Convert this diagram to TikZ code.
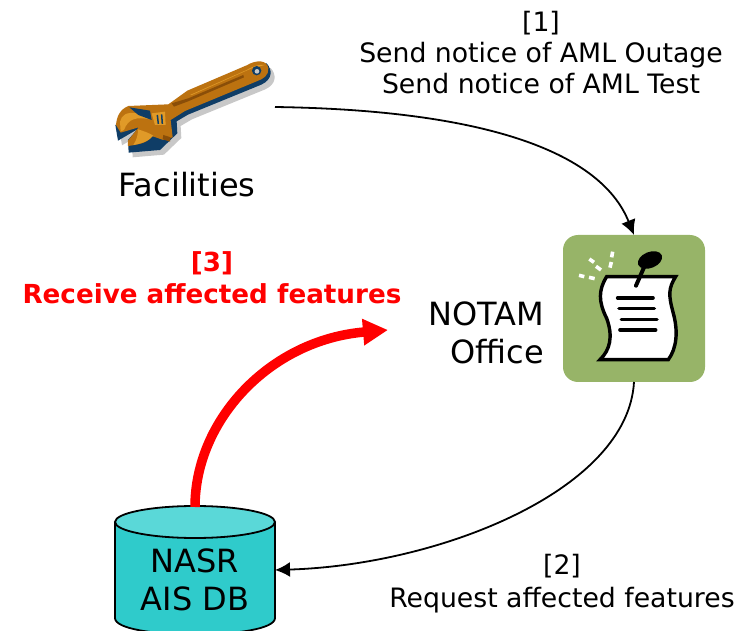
\documentclass[tikz,border=0pt]{standalone}
\usepackage{fontspec}
\setmainfont{DejaVu Sans}
\usetikzlibrary{arrows.meta}
\definecolor{notamgreen}{HTML}{97B468}
\definecolor{cylbody}{HTML}{2FCBCB}
\definecolor{cyltop}{HTML}{5AD8D8}
\definecolor{wrorange}{HTML}{BC7210}
\definecolor{wrdark}{HTML}{8A4E08}
\definecolor{wrlight}{HTML}{E09A28}
\definecolor{wrnavy}{HTML}{0F3D66}
\definecolor{wrgrey}{HTML}{C8C8C8}
\tikzset{
  lbl/.style={font=\fontsize{32}{38}\selectfont, align=center, inner sep=0pt, text=black},
  lblsmall/.style={font=\fontsize{26.7}{31}\selectfont, align=center, inner sep=0pt, text=black},
  lblmid/.style={font=\fontsize{26.7}{33}\selectfont, align=center, inner sep=0pt, text=black},
  lblred/.style={font=\bfseries\fontsize{26.2}{32}\selectfont, align=center, inner sep=0pt, text=red},
  flow/.style={draw=black, line width=1.8pt, -{Latex[length=15pt,width=15pt]}},
  hot/.style={draw=red, line width=9.5pt, -{Triangle[length=25pt,width=25pt]}},
  box/.style={inner sep=0pt, minimum width=#1, outer sep=0pt},
}
\begin{document}
\begin{tikzpicture}[x=1pt,y=-1pt]
\useasboundingbox (0,0) rectangle (756,631);
% invisible anchors of pictures
\node[box=162pt, minimum height=95pt] (wrench) at (194,107) {};
\node[box=142pt, minimum height=147pt] (notam) at (634,308.5) {};
\node[box=160pt, minimum height=126pt] (nasr) at (195,570) {};
% wrench
\begin{scope}[shift={(100,50)},x=0.3333pt,y=-0.3333pt]
\def\wrback{(46,225) -- (54,272) -- (112,238) -- (84,270) -- (86,308) -- (180,300) -- (232,250) -- (230,214) -- (264,194) -- (484,104) .. controls (518,88) and (518,60) .. (500,40) -- (440,60) -- (210,180) -- (100,200) -- cycle}
\fill[wrgrey,shift={(12,14)}] \wrback;
\fill[wrnavy] \wrback;
\fill[wrorange] (48,225) .. controls (50,200) and (60,178) .. (85,168) -- (205,163) -- (262,122) -- (440,46) .. controls (470,28) and (502,30) .. (505,55) .. controls (507,76) and (490,87) .. (470,94) -- (255,183) -- (212,210) -- (218,262) -- (190,270) -- (155,258) .. controls (145,275) and (130,282) .. (84,288) -- (84,272) -- (116,232) -- (62,248) -- cycle;
\fill[wrlight] (270,135) -- (440,60) .. controls (460,48) and (480,42) .. (495,45) -- (455,55) -- (275,135) -- cycle;
\fill[wrdark] (215,160) -- (265,145) -- (430,75) -- (432,82) -- (262,155) -- (222,170) -- cycle;
\fill[wrlight] (60,215) .. controls (65,195) and (80,185) .. (110,190) -- (150,200) -- (150,208) .. controls (110,200) and (85,205) .. (72,240) -- (62,245) -- cycle;
\fill[wrnavy] (88,172) -- (150,182) -- (155,210) -- (115,195) -- cycle;
\fill[wrlight] (155,190) -- (195,185) -- (197,225) -- (165,225) -- cycle;
\draw[wrnavy,line width=1.5pt] (172,195) -- (175,222) (185,193) -- (187,222);
\fill[wrlight] (114,238) .. controls (130,243) and (150,250) .. (160,257) .. controls (150,270) and (130,280) .. (100,285) .. controls (110,270) and (114,255) .. (114,238) -- cycle;
\fill[wrdark] (190,255) -- (212,262) -- (210,275) -- (188,268) -- cycle;
\fill[wrnavy] (470,62) circle (14);
\fill[wrgrey] (471,64) circle (7);
\end{scope}
% notam icon
\fill[notamgreen, rounded corners=15pt] (notam.south west) rectangle (notam.north east);
\begin{scope}[shift={(555,225)},x=0.3333pt,y=-0.3333pt]
\draw[black,fill=white,line width=3.4pt,line join=miter] (155,155) -- (362,155) .. controls (340,190) and (340,210) .. (355,265) .. controls (370,320) and (365,370) .. (340,404) -- (135,404) .. controls (165,375) and (175,335) .. (155,280) .. controls (130,230) and (130,195) .. (155,155) -- cycle;
\draw[black,line width=4pt,line cap=round] (268,125) -- (243,182);
\fill[black,rotate around={22:(285,105)}] (285,105) ellipse (38 and 24);
\draw[black,line width=3.6pt,line cap=round] (188,219) -- (294,219) (192,250) -- (298,250) (199,284) -- (306,284) (195,315) -- (302,315);
\draw[white,line width=3.6pt] (103,102) -- (117,112) (123,124) -- (138,135) (72,151) -- (88,155) (102,157) -- (119,161) (173,80) -- (170,97) (169,111) -- (165,128);
\end{scope}
% cylinder
\fill[cylbody] (115,522) -- (115,618) .. controls (115,640) and (275,640) .. (275,618) -- (275,522) -- cycle;
\draw[black,line width=1.8pt] (115,522) -- (115,618) .. controls (115,640) and (275,640) .. (275,618) -- (275,522);
\draw[black,fill=cyltop,line width=1.8pt] (195,522) ellipse (80 and 16);
% labels
\node[lbl] (wrenchlabel) at (187,185) {Facilities};
\node[lbl, align=right, anchor=east] (notamlabel) at (544,333) {NOTAM\\Office};
\node[lbl] (nasrlabel) at (195,580) {NASR\\AIS DB};
\node[lblsmall] (one) at (541,53) {[1]\\Send notice of AML Outage\\Send notice of AML Test};
\node[lblmid] (two) at (562,584) {[2]\\Request affected features};
\node[lblred] (three) at (212,278) {[3]\\Receive affected features};
% connectors
\draw[flow] (wrench.east) .. controls (480,110) and (600,150) .. (notam.north);
\draw[flow] (notam.south) .. controls (628,490) and (440,565) .. (nasr.east);
\coordinate (redtip) at (388,330);
\draw[hot] (nasr.north) .. controls (195,420) and (270,340) .. (redtip);
\end{tikzpicture}
\end{document}
